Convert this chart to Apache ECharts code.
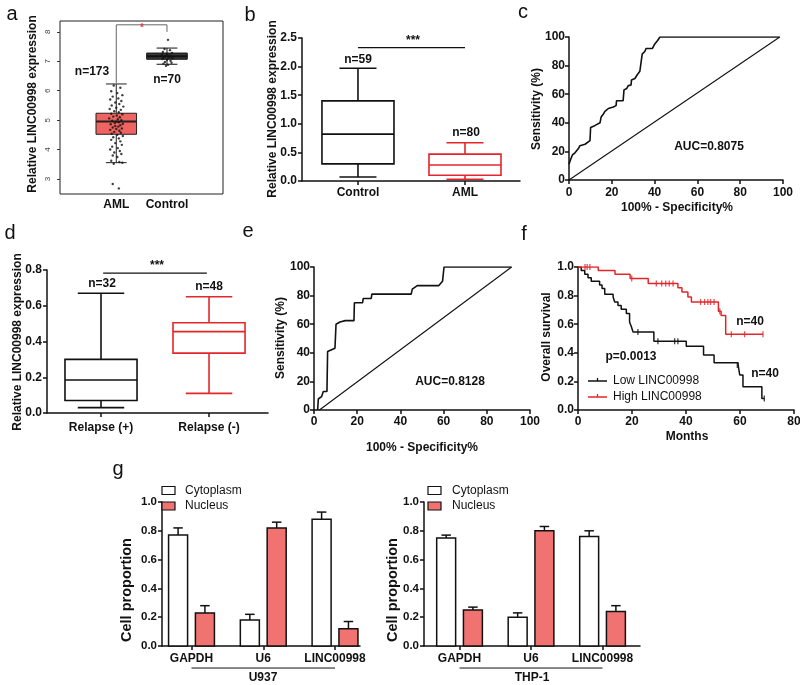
<!DOCTYPE html>
<html><head><meta charset="utf-8">
<script src="https://cdn.jsdelivr.net/npm/echarts@6/dist/echarts.min.js"></script>
<style>html,body{margin:0;padding:0;background:#fff}#c{width:800px;height:685px}</style>
</head><body><div id="c"></div><script>
// ---------------- DATA ----------------
// Panel a
const aCategories = ['AML', 'Control'];
const aBoxStats = [[3.555, 4.52, 4.95, 5.235, 6.23], [6.9, 7.07, 7.17, 7.28, 7.45]];
const aCounts = ['n=173', 'n=70'];
const aYTicks = [3, 4, 5, 6, 7, 8];
const aAmlJitter = [[-0.05,6.18],[0.08,6.1],[-0.1,5.98],[0.02,5.92],[0.12,5.85],[-0.07,5.8],[0.04,5.74],[-0.12,5.7],[0.1,5.65],[-0.02,5.6],[0.06,5.55],[-0.09,5.5],[0.14,5.46],[0.0,5.42],[-0.13,5.38],[0.09,5.35],[-0.04,5.3],[0.05,5.27],[-0.1,5.22],[0.12,5.2],[0.01,5.16],[-0.06,5.12],[0.07,5.1],[-0.14,5.06],[0.03,5.03],[0.1,5.0],[-0.08,4.98],[0.0,4.95],[0.05,4.93],[-0.03,4.9],[0.13,4.88],[-0.11,4.86],[0.08,4.83],[-0.02,4.8],[0.04,4.78],[-0.07,4.75],[0.11,4.72],[0.0,4.7],[-0.12,4.67],[0.06,4.64],[-0.04,4.6],[0.09,4.57],[-0.09,4.54],[0.02,4.5],[0.13,4.46],[-0.06,4.42],[0.05,4.38],[-0.1,4.33],[0.08,4.28],[-0.02,4.22],[0.11,4.16],[-0.08,4.1],[0.03,4.05],[-0.12,4.0],[0.07,3.95],[-0.04,3.9],[0.1,3.85],[-0.07,3.8],[0.02,3.75],[-0.1,3.62],[0.06,3.58],[0.12,3.55],[-0.05,3.52],[-0.07,2.83],[0.05,2.68]];
const aControlJitter = [[0.02,7.73],[-0.05,7.42],[0.06,7.38],[-0.08,7.32],[0.1,7.28],[0.0,7.25],[-0.1,7.22],[0.05,7.2],[-0.03,7.18],[0.08,7.16],[-0.06,7.14],[0.03,7.12],[0.11,7.1],[-0.09,7.08],[0.0,7.05],[0.07,7.02],[-0.04,6.98],[0.09,6.95],[-0.07,6.92],[0.02,6.88],[-0.02,6.85]];
const aBracketLevel = 8.24, aBracketLeftLow = 6.27, aBracketRightLow = 8.0;

// Panel b
const bCategories = ['Control', 'AML'];
const bBoxStats = [[0.07, 0.3, 0.82, 1.4, 1.97], [0.03, 0.1, 0.28, 0.47, 0.67]];
const bCounts = ['n=59', 'n=80'];
const bSigLevel = 2.33;

// Panel c (ROC)
const cRoc = [[0,11],[0.8,14.5],[1.6,17.5],[2.8,19],[4.4,22],[5.1,24],[7.5,25],[9.8,27.5],[10.1,36.7],[12,38],[14.5,40],[15,44],[16,46],[16.8,48],[18.4,50],[20.7,51],[22,52],[22.2,55.4],[25.3,55.4],[25.7,63],[27,64],[27.7,66],[29,66.5],[29.2,70],[30.8,71],[31.9,73.6],[33.1,76],[34,76],[34.2,88],[35.5,90],[36,92],[39,92],[40,95],[41.4,97.6],[42.5,100],[98.5,100]];
const cDiagonal = [[0,0],[98.5,100]];
const cAuc = 'AUC=0.8075';

// Panel d
const dCategories = ['Relapse (+)', 'Relapse (-)'];
const dBoxStats = [[0.03, 0.07, 0.185, 0.3, 0.67], [0.11, 0.335, 0.455, 0.505, 0.65]];
const dCounts = ['n=32', 'n=48'];
const dSigLevel = 0.783;

// Panel e (ROC)
const eRoc = [[1.7,0],[2,7.7],[3.5,9.3],[4.3,12.9],[6,12.9],[6.3,40.9],[9.7,43.2],[10.2,60],[12,61.5],[14.5,62.5],[18.5,62.5],[18.7,75],[22.5,75],[22.8,78],[26.5,78],[26.8,81],[45,81],[45.5,84.5],[47.8,87],[57.8,87],[59.5,90],[60.2,100],[91.5,100]];
const eDiagonal = [[2.5,0],[91.5,100]];
const eAuc = 'AUC=0.8128';

// Panel f (Kaplan-Meier)
const fLow = [[0,1],[1.2,0.975],[2.5,0.95],[3.7,0.925],[4.9,0.9],[8,0.875],[8.9,0.85],[9.9,0.81],[13,0.79],[13.6,0.755],[14.8,0.73],[16,0.705],[17.9,0.675],[19.1,0.615],[19.8,0.58],[20.4,0.545],[28.1,0.48],[40.1,0.445],[46.5,0.385],[50.4,0.33],[59.3,0.315],[59.9,0.245],[61.1,0.163],[68.1,0.08],[69,0.08]];
const fHigh = [[0,1],[7.5,0.975],[13.7,0.95],[19.3,0.92],[26,0.885],[37,0.855],[38.5,0.825],[40.7,0.79],[42,0.755],[52,0.69],[53,0.66],[54.7,0.53],[68.5,0.53]];
const fLowCensor = [[22.2,0.545],[29.6,0.48],[35.8,0.48],[37,0.48],[59,0.315],[69,0.08]];
const fHighCensor = [[2.6,1],[3.4,1],[4.4,1],[19.9,0.92],[29,0.885],[31,0.885],[32.5,0.885],[33.8,0.885],[35.2,0.885],[45.4,0.755],[46.9,0.755],[48.1,0.755],[49.1,0.755],[50.4,0.755],[52.5,0.69],[56.8,0.53],[61.7,0.53],[68.5,0.53]];
const fLegend = ['Low LINC00998', 'High LINC00998'];
const fP = 'p=0.0013';
const fCounts = ['n=40', 'n=40'];

// Panel g
const gCategories = ['GAPDH', 'U6', 'LINC00998'];
const gSeriesNames = ['Cytoplasm', 'Nucleus'];
const u937Cyto = [0.77, 0.18, 0.88], u937CytoErr = [0.05, 0.04, 0.05];
const u937Nuc = [0.23, 0.82, 0.12], u937NucErr = [0.05, 0.04, 0.05];
const thp1Cyto = [0.75, 0.20, 0.76], thp1CytoErr = [0.02, 0.03, 0.04];
const thp1Nuc = [0.25, 0.80, 0.24], thp1NucErr = [0.02, 0.03, 0.04];
const gCellLines = ['U937', 'THP-1'];

// ---------------- STYLE ----------------
const FONT = "'Liberation Sans', Arial, Helvetica, sans-serif";
const BLACK = '#111';
const RED = '#E3262B';
const SALMON = '#F07371';

function merge(a, b) {
  const o = Object.assign({}, a);
  for (const k in b) {
    const v = b[k];
    if (v && typeof v === 'object' && !Array.isArray(v) && typeof v !== 'function' && a[k] && typeof a[k] === 'object') o[k] = merge(a[k], v);
    else o[k] = v;
  }
  return o;
}
const baseAxis = {
  type: 'value',
  axisLine: { show: true, onZero: false, lineStyle: { color: BLACK, width: 1.5 } },
  axisTick: { show: true, length: 4, lineStyle: { color: BLACK, width: 1.5 } },
  axisLabel: { color: BLACK, fontFamily: FONT, fontWeight: 'bold', fontSize: 12, margin: 5 },
  splitLine: { show: false }
};
const ax = (o) => merge(baseAxis, o);
const fix1 = v => v.toFixed(1);

// ---------------- GRIDS ----------------
const grids = [
  { left: 60, top: 21, width: 163, height: 173, show: true, borderColor: '#222', borderWidth: 1 },
  { left: 302, top: 38, width: 218, height: 143 },
  { left: 569, top: 37, width: 214, height: 143 },
  { left: 47, top: 270, width: 221, height: 143 },
  { left: 314, top: 267, width: 216, height: 143 },
  { left: 578, top: 267, width: 216, height: 143 },
  { left: 162, top: 502, width: 198, height: 144 },
  { left: 424, top: 502, width: 216, height: 144 }
].map(g => Object.assign({ outerBoundsMode: 'none', containLabel: false }, g));

const catIdx = arr => arr.map((_, i) => i);
const xAxes = [
  ax({ gridIndex: 0, min: -1.11, max: 2.105, axisLine: { show: false }, axisTick: { show: false },
       axisLabel: { customValues: catIdx(aCategories), formatter: v => aCategories[Math.round(v)], margin: 5 } }),
  ax({ gridIndex: 1, min: -0.523, max: 1.514, axisTick: { customValues: catIdx(bCategories) },
       axisLabel: { customValues: catIdx(bCategories), formatter: v => bCategories[Math.round(v)], margin: 6 } }),
  ax({ gridIndex: 2, min: 0, max: 100, interval: 20, axisLabel: { margin: 7 } }),
  ax({ gridIndex: 3, min: -0.5, max: 1.546, axisTick: { customValues: catIdx(dCategories) },
       axisLabel: { customValues: catIdx(dCategories), formatter: v => dCategories[Math.round(v)], margin: 9 } }),
  ax({ gridIndex: 4, min: 0, max: 100, interval: 20, axisLabel: { margin: 6 } }),
  ax({ gridIndex: 5, min: 0, max: 80, interval: 20, axisLabel: { margin: 6 } }),
  ax({ gridIndex: 6, min: -0.411, max: 2.348, axisTick: { customValues: catIdx(gCategories) },
       axisLabel: { customValues: catIdx(gCategories), formatter: v => gCategories[Math.round(v)], margin: 7 } }),
  ax({ gridIndex: 7, min: -0.497, max: 2.524, axisTick: { customValues: catIdx(gCategories) },
       axisLabel: { customValues: catIdx(gCategories), formatter: v => gCategories[Math.round(v)], margin: 7 } })
];
const yAxes = [
  ax({ gridIndex: 0, min: 2.49, max: 8.37, axisLine: { show: false },
       axisTick: { customValues: aYTicks, length: 3, lineStyle: { width: 1, color: '#333' } },
       axisLabel: { customValues: aYTicks, rotate: 90, fontSize: 8, fontWeight: 'normal', color: '#444', margin: 8 } }),
  ax({ gridIndex: 1, min: 0, max: 2.5, interval: 0.5, axisLabel: { formatter: fix1 } }),
  ax({ gridIndex: 2, min: 0, max: 100, interval: 20, axisLabel: { margin: 4 } }),
  ax({ gridIndex: 3, min: 0, max: 0.8, interval: 0.2, axisLabel: { formatter: fix1 } }),
  ax({ gridIndex: 4, min: 0, max: 100, interval: 20, axisLabel: { margin: 4 } }),
  ax({ gridIndex: 5, min: 0, max: 1, interval: 0.2, axisLabel: { formatter: fix1, margin: 4 } }),
  ax({ gridIndex: 6, min: 0, max: 1, interval: 0.2, axisLabel: { formatter: fix1, fontSize: 11.5 } }),
  ax({ gridIndex: 7, min: 0, max: 1, interval: 0.2, axisLabel: { formatter: fix1, fontSize: 11.5 } })
];

// ---------------- SERIES HELPERS ----------------
function boxSeries(gi, stats, colors, boxW, capW, lw, mw) {
  return {
    type: 'custom', xAxisIndex: gi, yAxisIndex: gi, z: 3,
    data: stats.map((s, i) => [i].concat(s)),
    renderItem(params, api) {
      const x = api.value(0);
      const pMin = api.coord([x, api.value(1)]), pQ1 = api.coord([x, api.value(2)]),
            pMd = api.coord([x, api.value(3)]), pQ3 = api.coord([x, api.value(4)]),
            pMx = api.coord([x, api.value(5)]);
      const hw = api.size([boxW, 0])[0] / 2, hc = api.size([capW, 0])[0] / 2;
      const col = colors[params.dataIndex];
      const cx = pMd[0];
      const ls = { stroke: col.line, lineWidth: lw };
      return { type: 'group', children: [
        { type: 'line', shape: { x1: cx, y1: pMx[1], x2: cx, y2: pQ3[1] }, style: ls },
        { type: 'line', shape: { x1: cx, y1: pQ1[1], x2: cx, y2: pMin[1] }, style: ls },
        { type: 'line', shape: { x1: cx - hc, y1: pMx[1], x2: cx + hc, y2: pMx[1] }, style: ls },
        { type: 'line', shape: { x1: cx - hc, y1: pMin[1], x2: cx + hc, y2: pMin[1] }, style: ls },
        { type: 'rect', shape: { x: cx - hw, y: pQ3[1], width: 2 * hw, height: pQ1[1] - pQ3[1] },
          style: { fill: col.fill, stroke: col.line, lineWidth: lw } },
        { type: 'line', shape: { x1: cx - hw, y1: pMd[1], x2: cx + hw, y2: pMd[1] }, style: { stroke: col.line, lineWidth: mw } }
      ] };
    }
  };
}
function segSeries(gi, segs, color, lw) {
  return {
    type: 'custom', xAxisIndex: gi, yAxisIndex: gi, clip: false, z: 4, data: segs,
    renderItem(params, api) {
      const p1 = api.coord([api.value(0), api.value(1)]), p2 = api.coord([api.value(2), api.value(3)]);
      return { type: 'line', shape: { x1: p1[0], y1: p1[1], x2: p2[0], y2: p2[1] }, style: { stroke: color, lineWidth: lw } };
    }
  };
}
function barSeries(gi, values, errs, offset, width, fill) {
  return {
    type: 'custom', xAxisIndex: gi, yAxisIndex: gi, z: 3,
    data: values.map((v, i) => [i, v, errs[i]]),
    renderItem(params, api) {
      const x = api.value(0) + offset, v = api.value(1), e = api.value(2);
      const top = api.coord([x, v]), base = api.coord([x, 0]), eTop = api.coord([x, v + e]);
      const w = api.size([width, 0])[0];
      const cap = w * 0.5;
      return { type: 'group', children: [
        { type: 'line', shape: { x1: top[0], y1: top[1], x2: top[0], y2: eTop[1] }, style: { stroke: BLACK, lineWidth: 1.5 } },
        { type: 'line', shape: { x1: top[0] - cap / 2, y1: eTop[1], x2: top[0] + cap / 2, y2: eTop[1] }, style: { stroke: BLACK, lineWidth: 1.5 } },
        { type: 'rect', shape: { x: top[0] - w / 2, y: top[1], width: w, height: base[1] - top[1] },
          style: { fill: fill, stroke: BLACK, lineWidth: 1.5 } }
      ] };
    }
  };
}
const lineS = (gi, data, color, lw, extra) => Object.assign({
  type: 'line', xAxisIndex: gi, yAxisIndex: gi, data, showSymbol: false, symbol: 'none',
  lineStyle: { color, width: lw }, itemStyle: { color }, animation: false, z: 3
}, extra || {});
const censorS = (data, color) => ({
  type: 'scatter', xAxisIndex: 5, yAxisIndex: 5, data, symbol: 'rect', symbolSize: [1.3, 6],
  itemStyle: { color }, z: 4
});

const BAR_W = 0.265, BAR_OFF = 0.187;
const series = [
  boxSeries(0, aBoxStats, [{ fill: '#EF6461', line: '#222' }, { fill: '#3a3a3a', line: '#111' }], 0.8, 0.41, 1, 2),
  { type: 'scatter', xAxisIndex: 0, yAxisIndex: 0, z: 5, symbolSize: 2.4, itemStyle: { color: '#111' },
    data: aAmlJitter.map(([dx, y]) => [0 + dx, y]).concat(aControlJitter.map(([dx, y]) => [1 + dx, y])) },
  segSeries(0, [[0, aBracketLeftLow, 0, aBracketLevel], [0, aBracketLevel, 1, aBracketLevel], [1, aBracketLevel, 1, aBracketRightLow]], '#666', 1),
  boxSeries(1, bBoxStats, [{ fill: 'rgba(0,0,0,0)', line: BLACK }, { fill: 'rgba(0,0,0,0)', line: RED }], 0.673, 0.346, 1.6, 1.6),
  segSeries(1, [[0, bSigLevel, 1, bSigLevel]], BLACK, 1.2),
  lineS(2, cRoc, BLACK, 1.6),
  lineS(2, cDiagonal, BLACK, 1.1),
  boxSeries(3, dBoxStats, [{ fill: 'rgba(0,0,0,0)', line: BLACK }, { fill: 'rgba(0,0,0,0)', line: RED }], 0.667, 0.43, 1.6, 1.6),
  segSeries(3, [[0.02, dSigLevel, 0.98, dSigLevel]], BLACK, 1.2),
  lineS(4, eRoc, BLACK, 1.6),
  lineS(4, eDiagonal, BLACK, 1.1),
  lineS(5, fLow, BLACK, 1.5, { step: 'end' }),
  lineS(5, fHigh, RED, 1.5, { step: 'end' }),
  censorS(fLowCensor, BLACK),
  censorS(fHighCensor, RED),
  barSeries(6, u937Cyto, u937CytoErr, -BAR_OFF, BAR_W, '#fff'),
  barSeries(6, u937Nuc, u937NucErr, BAR_OFF, BAR_W, SALMON),
  barSeries(7, thp1Cyto, thp1CytoErr, -BAR_OFF, BAR_W, '#fff'),
  barSeries(7, thp1Nuc, thp1NucErr, BAR_OFF, BAR_W, SALMON),
  segSeries(6, [[0, -0.153, 2, -0.153]], BLACK, 1),
  segSeries(7, [[0, -0.153, 2, -0.153]], BLACK, 1)
];

// ---------------- TEXT ----------------
const T = (text, x, y, o) => Object.assign({ type: 'text', x, y, z: 100,
  style: Object.assign({ text, fill: BLACK, font: `bold 12px ${FONT}`, textAlign: 'center', textVerticalAlign: 'middle' }, (o && o.style) || {}) },
  o && o.rotation ? { rotation: o.rotation } : {});
const R90 = Math.PI / 2;
const letter = (t, x, y) => T(t, x, y, { style: { font: `20px ${FONT}` } });
const ytitle = (t, x, y) => T(t, x, y, { rotation: R90 });
const graphics = [
  letter('a', 12, 14), letter('b', 250, 15), letter('c', 523, 12),
  letter('d', 10, 233), letter('e', 248, 231), letter('f', 524, 234), letter('g', 118, 469),
  ytitle('Relative LINC00998 expression', 33, 104),
  ytitle('Relative LINC00998 expression', 273, 109),
  ytitle('Sensitivity (%)', 537, 109),
  ytitle('Relative LINC00998 expression', 18, 342),
  ytitle('Sensitivity (%)', 281, 338),
  ytitle('Overall survival', 547, 337),
  T('Cell proportion', 127, 590, { rotation: R90, style: { font: `bold 14.5px ${FONT}` } }),
  T('Cell proportion', 393, 590, { rotation: R90, style: { font: `bold 14.5px ${FONT}` } }),
  T('100% - Specificity%', 677, 208), T('100% - Specificity%', 422, 448), T('Months', 687, 437),
  T(aCounts[0], 92, 72), T(aCounts[1], 167, 80),
  T('*', 142, 28, { style: { fill: '#E04040', font: `bold 10px ${FONT}` } }),
  T(bCounts[0], 358, 60), T(bCounts[1], 466, 133), T('***', 413, 41),
  T(cAuc, 709, 147),
  T(dCounts[0], 102, 284), T(dCounts[1], 209, 287), T('***', 157, 266),
  T(eAuc, 450, 382),
  T(fP, 631, 357), T(fCounts[1], 750, 322), T(fCounts[0], 765, 374),
  T(gCellLines[0], 263, 678), T(gCellLines[1], 532, 678)
];
// KM legend
[[fLegend[0], BLACK, 381], [fLegend[1], RED, 397]].forEach(([t, c, y]) => {
  graphics.push({ type: 'line', z: 100, shape: { x1: 588, y1: y, x2: 607, y2: y }, style: { stroke: c, lineWidth: 1.5 } });
  graphics.push({ type: 'line', z: 100, shape: { x1: 597.5, y1: y - 3, x2: 597.5, y2: y }, style: { stroke: c, lineWidth: 1.3 } });
  graphics.push(T(t, 613, y, { style: { font: `12px ${FONT}`, textAlign: 'left' } }));
});
// g legends
[[162, 185], [428, 452]].forEach(([bx, tx]) => {
  [[gSeriesNames[0], '#fff', 490.5], [gSeriesNames[1], SALMON, 506]].forEach(([t, f, y]) => {
    graphics.push({ type: 'rect', z: 100, shape: { x: bx, y: y - 4, width: 13, height: 8 }, style: { fill: f, stroke: BLACK, lineWidth: 1.2 } });
    graphics.push(T(t, tx, y, { style: { font: `12px ${FONT}`, textAlign: 'left' } }));
  });
});

const chart = echarts.init(document.getElementById('c'), null, { renderer: 'canvas' });
chart.setOption({
  animation: false,
  backgroundColor: '#fff',
  grid: grids, xAxis: xAxes, yAxis: yAxes, series, graphic: graphics
});
</script></body></html>
